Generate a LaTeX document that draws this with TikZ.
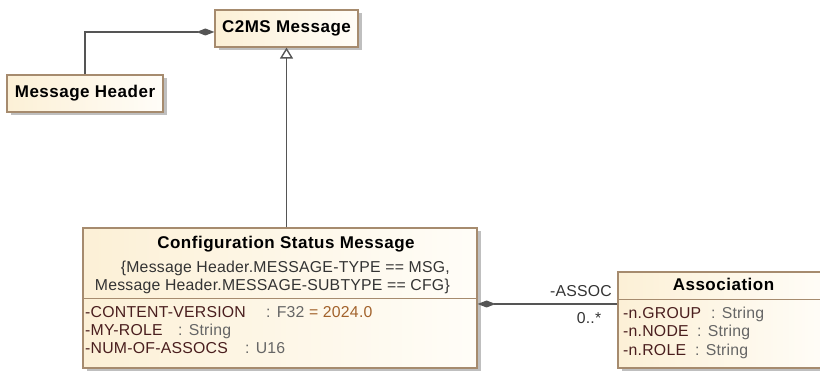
\documentclass[tikz,border=0pt]{standalone}
\usepackage{fontspec}
\setmainfont{Liberation Sans}
\usetikzlibrary{shadows,arrows.meta}
\definecolor{umlfillL}{HTML}{FCF0D6}
\definecolor{umlfillR}{HTML}{FFFDF8}
\definecolor{umlline}{HTML}{A68B6E}
\definecolor{attname}{HTML}{4A1E1E}
\definecolor{atttype}{HTML}{666666}
\definecolor{attval}{HTML}{A2622B}
\definecolor{conn}{HTML}{555555}
\begin{document}
\begin{tikzpicture}[x=1pt,y=-1pt,
    every node/.style={font=\fontsize{15.8}{18}\selectfont\addfontfeatures{LetterSpace=1.5}},
    cls/.style={draw=umlline,line width=1.2pt,left color=umlfillL,right color=umlfillR,inner sep=0pt,
      drop shadow={shadow xshift=3.5pt,shadow yshift=-3.5pt,fill=black,opacity=.25}},
    ttl/.style={font=\fontsize{17}{20}\selectfont\bfseries\addfontfeatures{LetterSpace=3}},
    txt/.style={inner sep=0pt,anchor=base west},
    comp/.style={draw=conn,line width=1.4pt,-{Diamond[length=18pt,width=7pt,fill=conn]}},
    gen/.style={draw=conn,line width=1.4pt,-{Triangle[open,length=11pt,width=13pt]}}]
    \useasboundingbox (0,0) rectangle (820,371);

    \node[cls,ttl,minimum width=143pt,minimum height=37pt] (c2ms) at (286.5,28.5) {C2MS Message};
    \node[cls,ttl,minimum width=156pt,minimum height=37pt] (mhdr) at (85,93.5) {Message Header};
    \node[cls,minimum width=394pt,minimum height=140pt] (cfg) at (280,298) {};
    \node[cls,minimum width=211pt,minimum height=96pt] (assoc) at (723.5,320) {};

    % Configuration Status Message
    \node[ttl,inner sep=0pt,anchor=base] (cfgttl) at (286,249) {Configuration Status Message};
    \node[txt,anchor=base east,text=black!80] (cst1) at (450,272.7) {\{Message Header.MESSAGE-TYPE == MSG,};
    \node[txt,anchor=base east,text=black!80] (cst2) at (450,290.7) {Message Header.MESSAGE-SUBTYPE == CFG\}};
    \draw[umlline,line width=1.2pt] ([yshift=-71pt]cfg.north west) -- ([yshift=-71pt]cfg.north east);
    \node[txt,text=attname] (cvname) at (85,317.7) {-CONTENT-VERSION};
    \node[txt,text=atttype] (cvtype) at (266,317.7) {: F32 {\color{attval}= 2024.0}};
    \node[txt,text=attname] (mrname) at (85,335.7) {-MY-ROLE};
    \node[txt,text=atttype] (mrtype) at (178,335.7) {: String};
    \node[txt,text=attname] (naname) at (85,353.7) {-NUM-OF-ASSOCS};
    \node[txt,text=atttype] (natype) at (245,353.7) {: U16};

    % Association
    \node[ttl,inner sep=0pt,anchor=base] (asttl) at (723.5,291) {Association};
    \draw[umlline,line width=1.2pt] ([yshift=-28pt]assoc.north west) -- ([yshift=-28pt]assoc.north east);
    \node[txt,text=attname] (grname) at (623,318.7) {-n.GROUP};
    \node[txt,text=atttype] (grtype) at (711,318.7) {: String};
    \node[txt,text=attname] (ndname) at (623,336.7) {-n.NODE};
    \node[txt,text=atttype] (ndtype) at (697,336.7) {: String};
    \node[txt,text=attname] (rlname) at (623,355.7) {-n.ROLE};
    \node[txt,text=atttype] (rltype) at (695,355.7) {: String};

    \draw[comp] (mhdr.north) |- ([yshift=-3.5pt]c2ms.west);
    \draw[gen] (c2ms.south |- cfg.north) -- (c2ms.south);
    \draw[comp] ([yshift=16pt]assoc.west) -- ([yshift=16pt]assoc.west -| cfg.east);
    \node[txt,anchor=base east,text=black!80] (role) at (612,297) {-ASSOC};
    \node[txt,anchor=base,text=black!80] (mult) at (589,324) {0..*};
\end{tikzpicture}
\end{document}
